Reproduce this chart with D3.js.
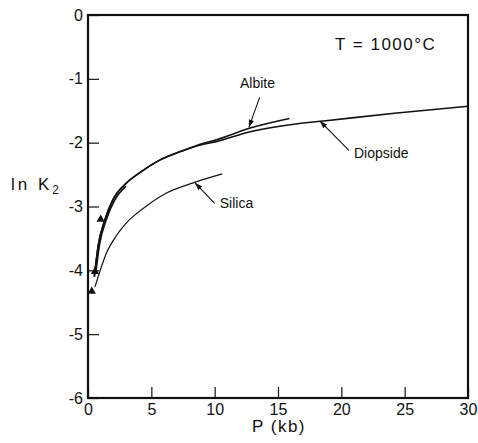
<!DOCTYPE html>
<html>
<head>
<meta charset="utf-8">
<script src="https://cdn.jsdelivr.net/npm/d3@7"></script>
<style>
  body { margin: 0; background: #fff; }
  text { font-family: "Liberation Sans", Arial, sans-serif; fill: #111; }
</style>
</head>
<body>
<div id="chart"></div>
<script>
// data (P in kb, ln K2)
var diopsideP  = [0.5, 0.8, 1.35, 2.0, 3.05, 4.1, 5.7, 7.3, 8.8, 10.2, 12.8, 16.7, 18.6, 24.2, 30];
var diopsideLn = [-4.1, -3.62, -3.2, -2.88, -2.63, -2.47, -2.27, -2.14, -2.04, -1.98, -1.83, -1.70, -1.66, -1.54, -1.43];

var albiteP  = [0.5, 0.8, 1.35, 2.0, 3.05, 4.1, 5.7, 7.3, 8.8, 10.2, 12.8, 15.9];
var albiteLn = [-4.1, -3.62, -3.2, -2.88, -2.63, -2.47, -2.27, -2.14, -2.03, -1.95, -1.77, -1.62];

// second stroke of the heavy low-pressure part
var bandP  = [0.6, 0.9, 1.45, 2.1, 3.0];
var bandLn = [-4.05, -3.6, -3.2, -2.9, -2.68];

var silicaP  = [0.55, 0.8, 1.1, 1.5, 2.0, 2.6, 3.1, 3.9, 4.7, 6.2, 8.3, 10.6];
var silicaLn = [-4.26, -4.1, -3.92, -3.71, -3.53, -3.36, -3.24, -3.1, -2.98, -2.79, -2.63, -2.49];

// experimental points (triangles)
var triP  = [0.3, 0.55, 1.0];
var triLn = [-4.33, -4.02, -3.2];

var xTicks = [0, 5, 10, 15, 20, 25, 30];
var yTicks = [0, -1, -2, -3, -4, -5, -6];

// labels with arrows: [text, label x, label y (data), arrow from, arrow to]
var labelNames = ["Albite", "Diopside", "Silica"];
var labelPos   = [[12.0, -1.15], [21.0, -2.24], [10.4, -3.02]];
var arrowFrom  = [[13.55, -1.29], [20.6, -2.12], [10.0, -2.95]];
var arrowTo    = [[12.7, -1.76], [18.3, -1.66], [8.45, -2.63]];

var margin = { top: 15, right: 10, bottom: 45, left: 88 },
    width = 478 - margin.left - margin.right,
    height = 443 - margin.top - margin.bottom;

var svg = d3.select("#chart")
    .append("svg")
    .attr("width", 478)
    .attr("height", 443)
    .append("g")
    .attr("transform", "translate(" + margin.left + "," + margin.top + ")");

var x = d3.scaleLinear().domain([0, 30]).range([0, width]);
var y = d3.scaleLinear().domain([-6, 0]).range([height, 0]);

// axes, ticks inside
var xAxis = svg.append("g")
    .attr("transform", "translate(0," + height + ")")
    .call(d3.axisBottom(x).tickValues(xTicks).tickSizeInner(-11).tickSizeOuter(0).tickPadding(6));
xAxis.select(".domain").remove();
xAxis.selectAll("line").attr("stroke", "#111").attr("stroke-width", 1.2);
xAxis.selectAll("text").style("font-size", "16px");

var yAxis = svg.append("g")
    .call(d3.axisLeft(y).tickValues(yTicks).tickSizeInner(-11).tickSizeOuter(0).tickPadding(5)
        .tickFormat(function (d) { return d === 0 ? "0" : "-" + Math.abs(d); }));
yAxis.select(".domain").remove();
yAxis.selectAll("line").attr("stroke", "#111").attr("stroke-width", 1.2);
yAxis.selectAll("text").style("font-size", "16px");

// frame
svg.append("rect")
    .attr("x", 0).attr("y", 0)
    .attr("width", width).attr("height", height)
    .attr("fill", "none").attr("stroke", "#111").attr("stroke-width", 2.2);

var line = d3.line()
    .x(function (d) { return x(d[0]); })
    .y(function (d) { return y(d[1]); })
    .curve(d3.curveMonotoneX);

function pairs(a, b) { return a.map(function (v, i) { return [v, b[i]]; }); }

svg.append("path").datum(pairs(diopsideP, diopsideLn))
    .attr("d", line).attr("fill", "none").attr("stroke", "#111").attr("stroke-width", 1.6);
svg.append("path").datum(pairs(albiteP, albiteLn))
    .attr("d", line).attr("fill", "none").attr("stroke", "#111").attr("stroke-width", 1.6);
svg.append("path").datum(pairs(bandP, bandLn))
    .attr("d", line).attr("fill", "none").attr("stroke", "#111").attr("stroke-width", 1.8);
svg.append("path").datum(pairs(silicaP, silicaLn))
    .attr("d", line).attr("fill", "none").attr("stroke", "#111").attr("stroke-width", 1.2);

// triangles
svg.selectAll(".tri")
    .data(pairs(triP, triLn))
    .enter()
    .append("path")
    .attr("class", "tri")
    .attr("transform", function (d) { return "translate(" + x(d[0]) + "," + y(d[1]) + ")"; })
    .attr("d", d3.symbol().type(d3.symbolTriangle).size(30))
    .attr("fill", "#111");

// arrows
svg.append("defs").append("marker")
    .attr("id", "head")
    .attr("viewBox", "0 0 10 10")
    .attr("refX", 10).attr("refY", 5)
    .attr("markerWidth", 7).attr("markerHeight", 7)
    .attr("orient", "auto")
    .append("path").attr("d", "M0,1.5 L10,5 L0,8.5 Z").attr("fill", "#111");

labelNames.forEach(function (name, i) {
    svg.append("line")
        .attr("x1", x(arrowFrom[i][0])).attr("y1", y(arrowFrom[i][1]))
        .attr("x2", x(arrowTo[i][0])).attr("y2", y(arrowTo[i][1]))
        .attr("stroke", "#111").attr("stroke-width", 1.1)
        .attr("marker-end", "url(#head)");
    svg.append("text")
        .attr("x", x(labelPos[i][0])).attr("y", y(labelPos[i][1]))
        .style("font-size", "14px")
        .text(name);
});

// temperature note
svg.append("text")
    .attr("x", 247).attr("y", 35)
    .style("font-size", "17px")
    .attr("letter-spacing", "1.5px")
    .text("T = 1000°C");

// axis titles
svg.append("text")
    .attr("x", x(15) + 1).attr("y", height + 34)
    .attr("text-anchor", "middle")
    .style("font-size", "17px")
    .attr("letter-spacing", "1.5px")
    .text("P (kb)");

var yt = svg.append("text")
    .attr("x", -77).attr("y", 175)
    .style("font-size", "17px")
    .attr("letter-spacing", "3px");
yt.append("tspan").text("ln K");
yt.append("tspan").attr("dy", 4).style("font-size", "12px").text("2");
</script>
</body>
</html>
